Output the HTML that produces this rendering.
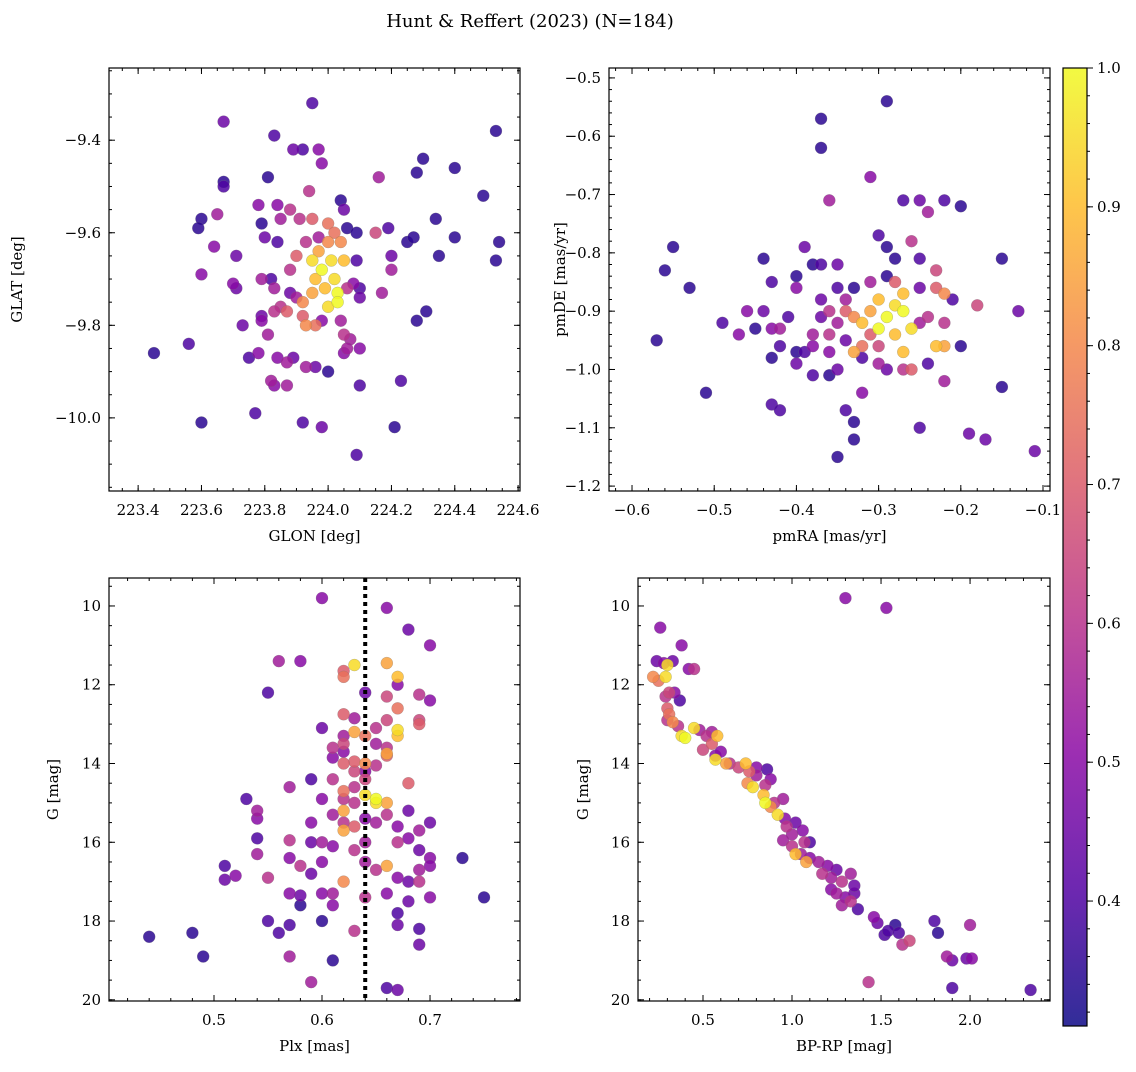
<!DOCTYPE html>
<html><head><meta charset="utf-8"><style>
body{margin:0;background:#fff;}
svg text{font-family:"DejaVu Serif","Liberation Serif",serif;fill:#000;}
</style></head><body>
<svg id="fig" width="1136" height="1067" viewBox="0 0 1136 1067" xmlns="http://www.w3.org/2000/svg">
<text x="530" y="27" font-size="18" text-anchor="middle">Hunt &amp; Reffert (2023) (N=184)</text>
</svg>
<script>
// ---- data arrays ----
const posData = [[223.95,-9.32,0.4],[224.53,-9.38,0.35],[223.67,-9.36,0.45],[223.83,-9.39,0.4],[223.89,-9.42,0.45],[223.92,-9.42,0.4],[223.97,-9.42,0.5],[223.98,-9.45,0.5],[224.30,-9.44,0.35],[224.40,-9.46,0.35],[224.28,-9.47,0.35],[224.49,-9.52,0.35],[223.67,-9.49,0.35],[223.67,-9.50,0.4],[224.16,-9.48,0.55],[223.94,-9.51,0.6],[223.81,-9.48,0.35],[224.04,-9.53,0.35],[223.78,-9.54,0.5],[223.84,-9.54,0.5],[223.88,-9.55,0.6],[223.60,-9.57,0.35],[223.65,-9.56,0.55],[224.34,-9.57,0.35],[224.05,-9.55,0.45],[223.91,-9.57,0.6],[223.85,-9.57,0.55],[223.59,-9.59,0.35],[223.79,-9.58,0.35],[224.00,-9.58,0.75],[223.95,-9.57,0.7],[224.06,-9.59,0.35],[224.09,-9.60,0.35],[224.15,-9.60,0.65],[224.19,-9.59,0.4],[223.80,-9.61,0.45],[223.84,-9.62,0.4],[224.25,-9.62,0.35],[224.27,-9.61,0.35],[224.40,-9.61,0.35],[224.54,-9.62,0.35],[223.64,-9.63,0.5],[223.60,-9.69,0.5],[223.71,-9.65,0.45],[224.35,-9.65,0.35],[224.53,-9.66,0.35],[224.20,-9.65,0.45],[224.20,-9.68,0.55],[224.09,-9.66,0.4],[223.95,-9.66,0.95],[223.97,-9.64,0.85],[223.98,-9.68,1.0],[224.01,-9.66,0.95],[223.96,-9.70,0.9],[224.02,-9.70,0.95],[223.99,-9.72,0.9],[224.03,-9.73,1.0],[223.95,-9.73,0.85],[224.05,-9.66,0.9],[224.04,-9.62,0.8],[223.93,-9.62,0.6],[223.90,-9.65,0.7],[223.88,-9.68,0.6],[224.02,-9.60,0.75],[224.00,-9.62,0.8],[223.97,-9.61,0.55],[223.92,-9.75,0.8],[224.03,-9.75,1.0],[224.00,-9.76,0.95],[224.06,-9.72,0.6],[224.08,-9.71,0.5],[223.98,-9.79,0.5],[223.96,-9.80,0.75],[223.93,-9.80,0.8],[223.92,-9.78,0.7],[224.04,-9.79,0.55],[224.05,-9.82,0.6],[224.07,-9.83,0.55],[223.70,-9.71,0.5],[223.71,-9.72,0.45],[223.79,-9.70,0.55],[223.82,-9.70,0.4],[223.83,-9.72,0.55],[223.88,-9.73,0.45],[223.85,-9.76,0.6],[223.79,-9.78,0.45],[223.79,-9.79,0.5],[223.73,-9.80,0.45],[223.81,-9.82,0.55],[223.83,-9.77,0.6],[223.87,-9.77,0.7],[223.90,-9.74,0.55],[224.10,-9.74,0.45],[224.10,-9.72,0.4],[224.17,-9.73,0.55],[224.28,-9.79,0.35],[224.31,-9.77,0.35],[223.45,-9.86,0.35],[223.56,-9.84,0.4],[223.75,-9.87,0.4],[223.78,-9.86,0.5],[223.84,-9.87,0.5],[223.87,-9.88,0.55],[223.89,-9.87,0.45],[223.93,-9.89,0.55],[223.96,-9.89,0.45],[224.00,-9.90,0.35],[224.05,-9.86,0.5],[224.06,-9.85,0.55],[224.10,-9.85,0.5],[224.10,-9.93,0.4],[223.82,-9.92,0.55],[223.83,-9.93,0.5],[223.87,-9.93,0.55],[224.23,-9.92,0.4],[223.77,-9.99,0.4],[223.60,-10.01,0.35],[223.92,-10.01,0.4],[223.98,-10.02,0.45],[224.21,-10.02,0.35],[224.09,-10.08,0.4]];
const pmData = [[-0.29,-0.54,0.35],[-0.37,-0.57,0.35],[-0.37,-0.62,0.35],[-0.31,-0.67,0.5],[-0.36,-0.71,0.55],[-0.27,-0.71,0.4],[-0.25,-0.71,0.45],[-0.24,-0.73,0.55],[-0.22,-0.71,0.4],[-0.20,-0.72,0.35],[-0.30,-0.77,0.4],[-0.29,-0.79,0.35],[-0.26,-0.78,0.6],[-0.39,-0.79,0.45],[-0.55,-0.79,0.35],[-0.56,-0.83,0.35],[-0.53,-0.86,0.35],[-0.44,-0.81,0.35],[-0.38,-0.82,0.35],[-0.37,-0.82,0.4],[-0.35,-0.82,0.45],[-0.28,-0.81,0.35],[-0.25,-0.81,0.4],[-0.23,-0.83,0.65],[-0.15,-0.81,0.35],[-0.43,-0.85,0.4],[-0.40,-0.84,0.35],[-0.40,-0.86,0.5],[-0.37,-0.88,0.45],[-0.35,-0.86,0.4],[-0.33,-0.86,0.35],[-0.31,-0.85,0.55],[-0.29,-0.84,0.35],[-0.28,-0.85,0.7],[-0.27,-0.87,0.9],[-0.25,-0.86,0.45],[-0.23,-0.86,0.7],[-0.22,-0.87,0.8],[-0.21,-0.88,0.4],[-0.18,-0.89,0.65],[-0.13,-0.90,0.45],[-0.30,-0.88,0.9],[-0.28,-0.89,0.95],[-0.29,-0.91,1.0],[-0.31,-0.90,0.85],[-0.27,-0.90,1.0],[-0.30,-0.93,1.0],[-0.32,-0.92,0.9],[-0.33,-0.91,0.8],[-0.34,-0.90,0.7],[-0.26,-0.93,0.95],[-0.28,-0.94,0.9],[-0.30,-0.96,0.65],[-0.32,-0.96,0.75],[-0.33,-0.97,0.85],[-0.31,-0.94,0.7],[-0.25,-0.92,0.55],[-0.24,-0.91,0.6],[-0.22,-0.92,0.6],[-0.22,-0.96,0.85],[-0.23,-0.96,0.9],[-0.27,-0.97,0.9],[-0.26,-1.00,0.7],[-0.36,-0.90,0.6],[-0.34,-0.88,0.55],[-0.35,-0.92,0.55],[-0.36,-0.94,0.6],[-0.38,-0.94,0.55],[-0.37,-0.91,0.45],[-0.38,-0.96,0.5],[-0.36,-0.97,0.5],[-0.34,-0.95,0.45],[-0.39,-0.97,0.4],[-0.40,-0.99,0.45],[-0.42,-0.96,0.4],[-0.43,-0.93,0.5],[-0.42,-0.93,0.55],[-0.44,-0.90,0.45],[-0.46,-0.90,0.5],[-0.47,-0.94,0.5],[-0.49,-0.92,0.4],[-0.45,-0.93,0.35],[-0.41,-0.91,0.4],[-0.43,-0.98,0.35],[-0.40,-0.97,0.35],[-0.38,-1.01,0.4],[-0.36,-1.01,0.35],[-0.35,-1.00,0.45],[-0.32,-0.98,0.4],[-0.30,-0.99,0.55],[-0.29,-1.00,0.45],[-0.27,-1.00,0.6],[-0.24,-0.99,0.4],[-0.20,-0.96,0.35],[-0.22,-1.02,0.55],[-0.15,-1.03,0.35],[-0.57,-0.95,0.35],[-0.51,-1.04,0.35],[-0.43,-1.06,0.4],[-0.42,-1.07,0.4],[-0.34,-1.07,0.4],[-0.33,-1.09,0.35],[-0.33,-1.12,0.35],[-0.32,-1.04,0.5],[-0.25,-1.10,0.4],[-0.19,-1.11,0.45],[-0.17,-1.12,0.45],[-0.11,-1.14,0.45],[-0.35,-1.15,0.35]];
const plxData = [[0.60,9.8,0.5],[0.66,10.05,0.5],[0.68,10.6,0.45],[0.70,11.0,0.5],[0.56,11.4,0.55],[0.58,11.4,0.5],[0.62,11.65,0.7],[0.62,11.8,0.75],[0.63,11.5,0.95],[0.66,11.45,0.85],[0.67,11.8,0.9],[0.67,12.0,0.5],[0.69,12.25,0.6],[0.55,12.2,0.4],[0.66,12.3,0.65],[0.70,12.4,0.5],[0.64,12.2,0.45],[0.67,12.6,0.75],[0.62,12.75,0.7],[0.63,12.85,0.55],[0.66,12.9,0.65],[0.69,12.9,0.65],[0.69,13.0,0.7],[0.63,13.2,0.85],[0.65,13.1,0.6],[0.67,13.15,0.95],[0.60,13.1,0.45],[0.62,13.3,0.55],[0.64,13.3,0.75],[0.67,13.3,0.9],[0.61,13.6,0.6],[0.62,13.5,0.65],[0.65,13.5,0.55],[0.66,13.6,0.6],[0.62,13.7,0.5],[0.66,13.8,0.7],[0.66,13.75,0.85],[0.61,13.85,0.5],[0.63,13.95,0.7],[0.64,14.0,0.8],[0.65,14.05,0.6],[0.59,14.4,0.4],[0.62,14.0,0.7],[0.63,14.2,0.65],[0.64,14.2,0.5],[0.61,14.4,0.6],[0.68,14.5,0.7],[0.64,14.4,0.65],[0.63,14.6,0.6],[0.62,14.7,0.75],[0.64,14.8,0.95],[0.65,14.9,1.0],[0.65,15.0,0.95],[0.66,15.0,0.85],[0.62,14.9,0.6],[0.53,14.9,0.4],[0.57,14.6,0.55],[0.60,14.9,0.5],[0.63,15.0,0.6],[0.62,15.2,0.85],[0.66,15.3,0.6],[0.68,15.2,0.45],[0.64,15.4,0.5],[0.61,15.3,0.55],[0.54,15.2,0.55],[0.59,15.5,0.5],[0.62,15.5,0.6],[0.62,15.7,0.85],[0.63,15.6,0.7],[0.65,15.5,0.55],[0.67,15.6,0.5],[0.69,15.7,0.55],[0.70,15.5,0.45],[0.54,15.4,0.5],[0.54,15.9,0.4],[0.57,15.95,0.6],[0.59,16.0,0.45],[0.60,16.0,0.55],[0.61,16.1,0.5],[0.63,16.2,0.6],[0.64,16.0,0.55],[0.67,16.0,0.6],[0.68,15.9,0.5],[0.69,16.2,0.45],[0.70,16.4,0.5],[0.73,16.4,0.35],[0.54,16.3,0.55],[0.51,16.6,0.4],[0.51,16.95,0.45],[0.52,16.85,0.5],[0.55,16.9,0.6],[0.57,16.4,0.5],[0.58,16.6,0.6],[0.59,16.8,0.45],[0.60,16.5,0.5],[0.62,17.0,0.8],[0.64,16.5,0.55],[0.65,16.7,0.6],[0.66,16.6,0.85],[0.67,16.9,0.5],[0.68,17.0,0.45],[0.69,16.7,0.55],[0.70,16.6,0.5],[0.69,17.0,0.6],[0.57,17.3,0.5],[0.58,17.35,0.45],[0.60,17.3,0.5],[0.61,17.3,0.55],[0.64,17.4,0.6],[0.66,17.3,0.5],[0.68,17.5,0.45],[0.70,17.4,0.5],[0.75,17.4,0.35],[0.58,17.6,0.35],[0.61,17.6,0.5],[0.67,17.8,0.4],[0.55,18.0,0.4],[0.57,18.1,0.4],[0.60,18.0,0.35],[0.67,18.1,0.45],[0.69,18.2,0.4],[0.63,18.25,0.6],[0.44,18.4,0.35],[0.48,18.3,0.35],[0.56,18.3,0.4],[0.69,18.6,0.45],[0.49,18.9,0.35],[0.57,18.9,0.55],[0.61,19.0,0.35],[0.59,19.55,0.55],[0.66,19.7,0.4],[0.67,19.75,0.45]];
const cmdData = [[0.26,10.55,0.5],[0.38,11.0,0.5],[1.30,9.8,0.5],[1.53,10.05,0.5],[0.24,11.4,0.45],[0.28,11.45,0.5],[0.30,11.5,0.95],[0.33,11.4,0.45],[0.42,11.6,0.5],[0.45,11.6,0.6],[0.22,11.8,0.8],[0.25,11.9,0.75],[0.29,11.8,0.95],[0.29,12.3,0.6],[0.31,12.2,0.65],[0.34,12.2,0.5],[0.37,12.4,0.4],[0.30,12.6,0.7],[0.31,12.75,0.75],[0.30,12.9,0.6],[0.33,12.95,0.8],[0.36,13.05,0.6],[0.38,13.3,0.95],[0.40,13.35,1.0],[0.45,13.1,0.95],[0.48,13.15,0.55],[0.52,13.3,0.6],[0.55,13.2,0.55],[0.58,13.3,0.9],[0.55,13.5,0.7],[0.50,13.65,0.65],[0.57,13.8,0.5],[0.60,13.7,0.5],[0.63,14.0,0.85],[0.57,13.9,0.95],[0.65,14.0,0.6],[0.70,14.1,0.65],[0.74,14.0,0.9],[0.76,14.2,0.7],[0.80,14.1,0.5],[0.86,14.15,0.4],[0.80,14.3,0.55],[0.75,14.5,0.8],[0.78,14.6,0.95],[0.85,14.55,0.6],[0.88,14.4,0.5],[0.84,14.8,0.9],[0.85,15.0,1.0],[0.88,15.1,0.8],[0.90,15.0,0.6],[0.95,14.9,0.55],[0.92,15.3,0.95],[0.96,15.4,0.5],[0.97,15.6,0.6],[1.02,15.5,0.45],[1.00,15.8,0.55],[0.95,15.95,0.55],[1.06,15.7,0.5],[1.07,16.0,0.6],[1.10,16.0,0.4],[1.00,16.1,0.6],[1.02,16.3,0.9],[1.05,16.3,0.55],[1.08,16.5,0.85],[1.10,16.4,0.5],[1.15,16.5,0.55],[1.20,16.6,0.5],[1.17,16.8,0.6],[1.22,16.9,0.55],[1.25,16.7,0.45],[1.28,17.0,0.6],[1.22,17.2,0.5],[1.25,17.3,0.55],[1.30,17.4,0.5],[1.33,17.5,0.6],[1.35,17.3,0.45],[1.37,17.7,0.4],[1.33,16.8,0.55],[1.28,17.6,0.55],[1.35,17.1,0.45],[1.46,17.9,0.5],[1.48,18.05,0.45],[1.52,18.35,0.4],[1.54,18.25,0.4],[1.58,18.1,0.35],[1.60,18.3,0.4],[1.62,18.6,0.6],[1.66,18.5,0.65],[1.80,18.0,0.4],[1.82,18.3,0.35],[1.87,18.9,0.55],[1.90,19.0,0.45],[1.98,18.95,0.45],[2.01,18.95,0.5],[2.00,18.1,0.55],[1.43,19.55,0.6],[1.90,19.7,0.4],[2.34,19.75,0.4]];
const plxRef = 0.64;
const cbTicks = [0.4,0.5,0.6,0.7,0.8,0.9,1.0];
const cbMin = 0.31, cbMax = 1.0;

const NS="http://www.w3.org/2000/svg";
const svg=document.getElementById('fig');
function mk(tag,attrs,parent){const e=document.createElementNS(NS,tag);for(const k in attrs)e.setAttribute(k,attrs[k]);(parent||svg).appendChild(e);return e;}
const stops=[[13,8,135],[84,2,163],[139,10,165],[185,50,137],[219,92,104],[244,136,73],[254,188,43],[240,249,33]];
function plasma(p){let t=(p-cbMin)/(cbMax-cbMin);t=Math.max(0,Math.min(1,t));const s=t*(stops.length-1);const i=Math.min(stops.length-2,Math.floor(s));const f=s-i;const c=stops[i].map((v,k)=>Math.round(v+(stops[i+1][k]-v)*f));return `rgb(${c[0]},${c[1]},${c[2]})`;}
function fmt(v,d){let s=v.toFixed(d);return s.replace('-','\u2212');}

function panel(o){
  const g=mk('g',{});
  
  
  const X=v=>o.x0+(v-o.xmin)/(o.xmax-o.xmin)*(o.x1-o.x0);
  const Y=v=>o.yinv? o.y0+(v-o.ymin)/(o.ymax-o.ymin)*(o.y1-o.y0) : o.y1-(v-o.ymin)/(o.ymax-o.ymin)*(o.y1-o.y0);
  const pts=o.data.slice().sort((a,b)=>a[2]-b[2]);
  const pg=mk('g',{},g);
  
  
  pts.forEach(d=>{const c=mk('circle',{cx:X(d[0]),cy:Y(d[1]),r:6,fill:plasma(d[2]),'fill-opacity':0.85,stroke:'#777','stroke-width':0.4,'stroke-opacity':0.6},pg);
    
    });
  if(o.vline!==undefined){const l=mk('line',{x1:X(o.vline),x2:X(o.vline),y1:o.y0,y2:o.y1,stroke:'#000','stroke-width':4,'stroke-dasharray':'4 4'},g);
    
    }
  const fr=mk('rect',{x:o.x0,y:o.y0,width:o.x1-o.x0,height:o.y1-o.y0,fill:'none',stroke:'#000','stroke-width':1.2},g);
  
  
  const tk=(a,b,c,d)=>mk('line',{x1:a,y1:b,x2:c,y2:d,stroke:'#000','stroke-width':1},g);
  const eps=1e-9;
  for(let v=Math.ceil(o.xmin/o.xmn-eps)*o.xmn; v<=o.xmax+eps; v+=o.xmn){const px=X(v);tk(px,o.y1,px,o.y1-3);tk(px,o.y0,px,o.y0+3);}
  for(let v=Math.ceil(o.ymin/o.ymn-eps)*o.ymn; v<=o.ymax+eps; v+=o.ymn){const py=Y(v);tk(o.x0,py,o.x0+3,py);tk(o.x1,py,o.x1-3,py);}
  o.xt.forEach(v=>{const px=X(v);tk(px,o.y1,px,o.y1-6);tk(px,o.y0,px,o.y0+6);
    const t=mk('text',{x:px,y:o.y1+24,'font-size':15,'text-anchor':'middle'},g);t.textContent=fmt(v,o.xd);
    
    });
  o.yt.forEach(v=>{const py=Y(v);tk(o.x0,py,o.x0+6,py);tk(o.x1,py,o.x1-6,py);
    const t=mk('text',{x:o.x0-8,y:py+5,'font-size':15,'text-anchor':'end'},g);t.textContent=fmt(v,o.yd);
    
    });
  const xl=mk('text',{x:(o.x0+o.x1)/2,y:o.y1+50,'font-size':15,'text-anchor':'middle'},g);xl.textContent=o.xlab;
  
  
  const yx=o.ylx, yy=(o.y0+o.y1)/2;
  const yl=mk('text',{x:yx,y:yy,'font-size':15,'text-anchor':'middle',transform:`rotate(-90 ${yx} ${yy})`},g);yl.textContent=o.ylab;
  
  
}
panel({name:'glon-glat-panel',data:posData,x0:109,x1:520,y0:68,y1:491,xmin:223.308,xmax:224.606,ymin:-10.158,ymax:-9.244,
  xt:[223.4,223.6,223.8,224.0,224.2,224.4,224.6],yt:[-10.0,-9.8,-9.6,-9.4],xd:1,yd:1,xmn:0.05,ymn:0.05,xlab:'GLON [deg]',ylab:'GLAT [deg]',ylx:22});
panel({name:'proper-motion-panel',data:pmData,x0:609,x1:1050,y0:68,y1:491,xmin:-0.628,xmax:-0.0915,ymin:-1.2084,ymax:-0.483,
  xt:[-0.6,-0.5,-0.4,-0.3,-0.2,-0.1],yt:[-1.2,-1.1,-1.0,-0.9,-0.8,-0.7,-0.6,-0.5],xd:1,yd:1,xmn:0.02,ymn:0.02,xlab:'pmRA [mas/yr]',ylab:'pmDE [mas/yr]',ylx:565});
panel({name:'parallax-magnitude-panel',data:plxData,vline:plxRef,x0:109,x1:520,y0:578,y1:1001,xmin:0.4028,xmax:0.7833,ymin:9.29,ymax:20.03,yinv:true,
  xt:[0.5,0.6,0.7],yt:[10,12,14,16,18,20],xd:1,yd:0,xmn:0.02,ymn:0.5,xlab:'Plx [mas]',ylab:'G [mag]',ylx:58});
panel({name:'color-magnitude-panel',data:cmdData,x0:638,x1:1050,y0:578,y1:1001,xmin:0.135,xmax:2.449,ymin:9.29,ymax:20.03,yinv:true,
  xt:[0.5,1.0,1.5,2.0],yt:[10,12,14,16,18,20],xd:1,yd:0,xmn:0.1,ymn:0.5,xlab:'BP-RP [mag]',ylab:'G [mag]',ylx:588});

// colorbar
const cb=mk('g',{});


const defs=mk('defs',{},cb);
const lg=mk('linearGradient',{id:'pl',x1:0,y1:1,x2:0,y2:0},defs);
stops.forEach((c,i)=>mk('stop',{offset:i/(stops.length-1),'stop-color':`rgb(${c[0]},${c[1]},${c[2]})`,'stop-opacity':0.85},lg));
const cbx0=1063,cbx1=1087,cby0=68,cby1=1026;
mk('rect',{x:cbx0,y:cby0,width:cbx1-cbx0,height:cby1-cby0,fill:'url(#pl)',stroke:'#000','stroke-width':1.2},cb);
const CY=v=>cby1-(v-cbMin)/(cbMax-cbMin)*(cby1-cby0);
for(let v=0.32;v<=cbMax+1e-9;v+=0.02){mk('line',{x1:cbx1,x2:cbx1+3,y1:CY(v),y2:CY(v),stroke:'#000'},cb);}
cbTicks.forEach(v=>{mk('line',{x1:cbx1,x2:cbx1+6,y1:CY(v),y2:CY(v),stroke:'#000'},cb);
  const t=mk('text',{x:cbx1+10,y:CY(v)+5,'font-size':15},cb);t.textContent=v.toFixed(1);
  
  });
</script>
</body></html>
